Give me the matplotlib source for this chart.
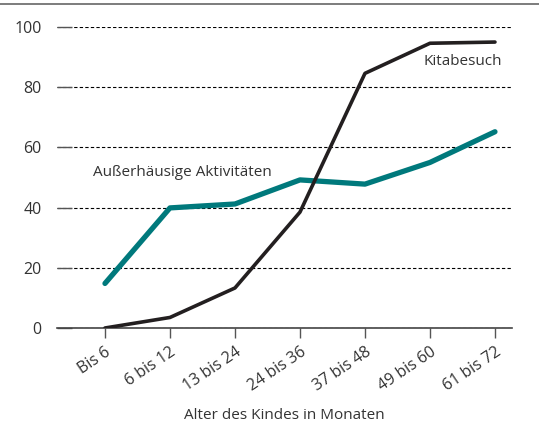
import matplotlib.pyplot as plt
from matplotlib.lines import Line2D

plt.rcParams['font.family'] = ['Open Sans', 'DejaVu Sans']

categories = ['Bis 6', '6 bis 12', '13 bis 24', '24 bis 36', '37 bis 48', '49 bis 60', '61 bis 72']
kitabesuch = [0, 3.5, 13.3, 38.5, 84.6, 94.6, 95.0]
ausser = [14.8, 39.9, 41.2, 49.2, 47.8, 55.0, 65.2]
y_ticks = [0, 20, 40, 60, 80, 100]

text_color = '#333333'
teal = '#00797c'
dark = '#231f20'

fig = plt.figure(figsize=(5.39, 4.33), dpi=100)
ax = fig.add_axes([57 / 539, 1 - 328 / 433, 455 / 539, 301 / 433])

x = list(range(len(categories)))
ax.plot(x, ausser, color=teal, lw=3.8, solid_capstyle='round', zorder=3)
ax.plot(x, kitabesuch, color=dark, lw=2.6, solid_capstyle='round', zorder=4)

ax.set_xlim(-0.738, 6.262)
ax.set_ylim(0, 100)
ax.set_yticks(y_ticks)
ax.set_xticks(x)
ax.set_xticklabels(categories, rotation=34, ha='right', rotation_mode='anchor',
                   fontsize=11.5, color=text_color)
ax.tick_params(axis='y', direction='in', length=11, width=1, color='#555555',
               pad=11, labelsize=11.5, labelcolor=text_color)
ax.tick_params(axis='x', direction='out', length=7.5, width=1, color='#555555',
               pad=4)
ax.yaxis.grid(True, linestyle=(0, (3, 2)), color='black', lw=0.8)
ax.set_axisbelow(True)

for side in ['top', 'right', 'left']:
    ax.spines[side].set_visible(False)
ax.spines['bottom'].set_color('#444444')
ax.spines['bottom'].set_linewidth(1.2)

ax.set_xlabel('Alter des Kindes in Monaten', fontsize=11, color=text_color, labelpad=10)

ax.text(5.5, 88.5, 'Kitabesuch', fontsize=11, color=text_color, ha='center', va='center')
ax.text(-0.18, 51.5, 'Außerhäusige Aktivitäten', fontsize=11, color=text_color,
        ha='left', va='center')

fig.add_artist(Line2D([0, 1], [1 - 4 / 433, 1 - 4 / 433], color='#666666', lw=1.2))

fig.savefig('out.png', dpi=100)
